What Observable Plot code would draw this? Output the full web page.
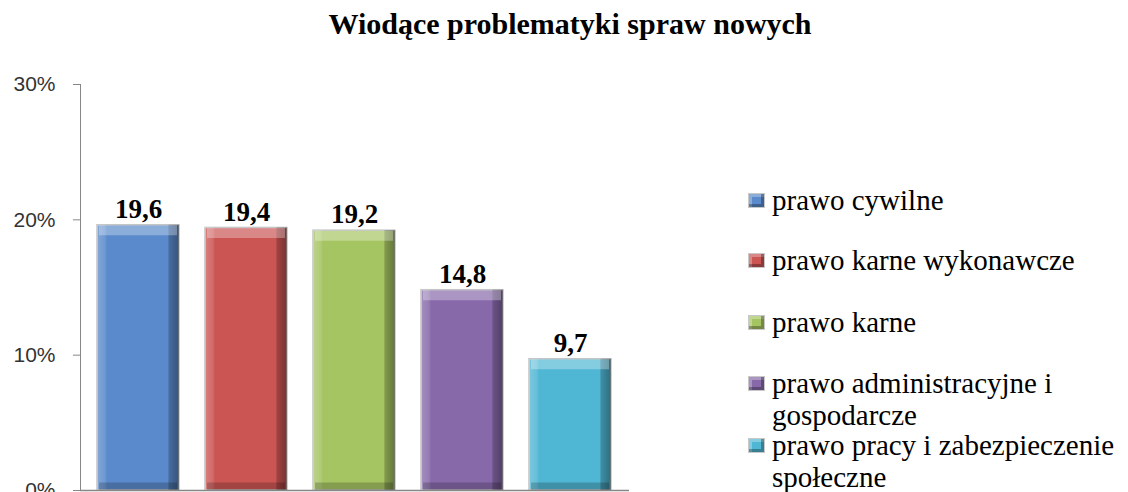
<!DOCTYPE html>
<html><head><meta charset="utf-8">
<script src="https://cdn.jsdelivr.net/npm/d3@7"></script>
<script src="https://cdn.jsdelivr.net/npm/@observablehq/plot@0.6"></script>
<style>
body{margin:0;background:#fff;overflow:hidden}
#wrap{position:relative;width:1128px;height:492px;overflow:hidden}
#title{position:absolute;top:7px;left:570px;transform:translateX(-50%);font-family:'Liberation Serif','Times New Roman',serif;font-weight:bold;font-size:30px;white-space:nowrap;color:#000}
#legend{position:absolute;left:748px;top:0}
.item{position:absolute;left:0;display:flex;align-items:flex-start;font-family:'Liberation Serif','Times New Roman',serif;font-size:29px;line-height:32px;color:#000;width:380px;white-space:nowrap}
.sw{width:17px;height:15px;margin-top:9px;margin-right:7px;flex:none;box-shadow:inset -3px -3px 0 rgba(0,0,0,.3), inset 3px 3px 0 rgba(255,255,255,.3);border:1px solid #c8c8c8;box-sizing:border-box}
.ch g[aria-label="y-axis tick label"] text{fill:#333}
</style>
</head><body>
<div id="wrap">
<div id="title">Wiodące problematyki spraw nowych</div>
<div id="legend"></div>
</div>
<script>
const categories = ["prawo cywilne","prawo karne wykonawcze","prawo karne","prawo administracyjne i gospodarcze","prawo pracy i zabezpieczenie społeczne"];
const legendLabels = [["prawo cywilne"],["prawo karne wykonawcze"],["prawo karne"],["prawo administracyjne i","gospodarcze"],["prawo pracy i zabezpieczenie","społeczne"]];
const values = [19.6,19.4,19.2,14.8,9.7];
const colors = ["#5a8acb","#cb5553","#a5c462","#8769aa","#4fb6d3"];
const yTicks = [0,10,20,30];

const data = categories.map((c,i)=>({category:c,value:values[i],hue:colors[i]}));

const defs = () => {
  const s = d3.create("svg:defs");
  const g = s.append("linearGradient").attr("id","hshade").attr("x1",0).attr("x2",1).attr("y1",0).attr("y2",0);
  [[0,"#fff",0.25],[0.1,"#fff",0.12],[0.12,"#fff",0],[0.86,"#000",0],[0.88,"#000",0.22],[1,"#000",0.4]]
    .forEach(([o,c,a])=>g.append("stop").attr("offset",o).attr("stop-color",c).attr("stop-opacity",a));
  return s.node();
};

const chart = Plot.plot({
  width:1128, height:492,
  marginLeft:80, marginRight:499, marginTop:84, marginBottom:2,
  className:"ch",
  style:{background:"transparent", color:"#878787", fontFamily:"'Liberation Sans', Arial, sans-serif", fontSize:"21px"},
  x:{domain:categories, axis:null, paddingInner:0.24, paddingOuter:0.14},
  y:{domain:[0,30], ticks:yTicks, tickFormat:d=>d+"%", tickSize:7, tickPadding:18, label:null, line:true},
  marks:[
    defs,
    Plot.barY(data,{x:"category",y:"value",fill:d=>d.hue,stroke:"#c4c4c4",strokeWidth:1.5}),
    Plot.barY(data,{x:"category",y:"value",fill:"url(#hshade)"}),
    Plot.tickY(data,{x:"category",y:"value",stroke:"#fff",strokeOpacity:0.3,strokeWidth:10,dy:5,inset:2}),
    Plot.tickY(data,{x:"category",y:d=>0,stroke:"#000",strokeOpacity:0.2,strokeWidth:8,dy:-4,inset:2}),
    Plot.ruleY([0],{stroke:"#878787",strokeWidth:1.5}),
    Plot.text(data,{x:"category",y:"value",text:d=>d.value.toFixed(1).replace(".",","),dy:-16,fill:"#000",fontFamily:"'Liberation Serif', serif",fontWeight:"bold",fontSize:27})
  ]
});
document.getElementById("wrap").prepend(chart);

const tops = [184,244,306,367,429];
const leg = document.getElementById("legend");
legendLabels.forEach((lines,i)=>{
  const it = document.createElement("div");
  it.className="item"; it.style.top = tops[i]+"px";
  const sw = document.createElement("div"); sw.className="sw"; sw.style.background = colors[i];
  const tx = document.createElement("div"); tx.innerHTML = lines.join("<br>");
  it.append(sw,tx); leg.append(it);
});
</script>
</body></html>
